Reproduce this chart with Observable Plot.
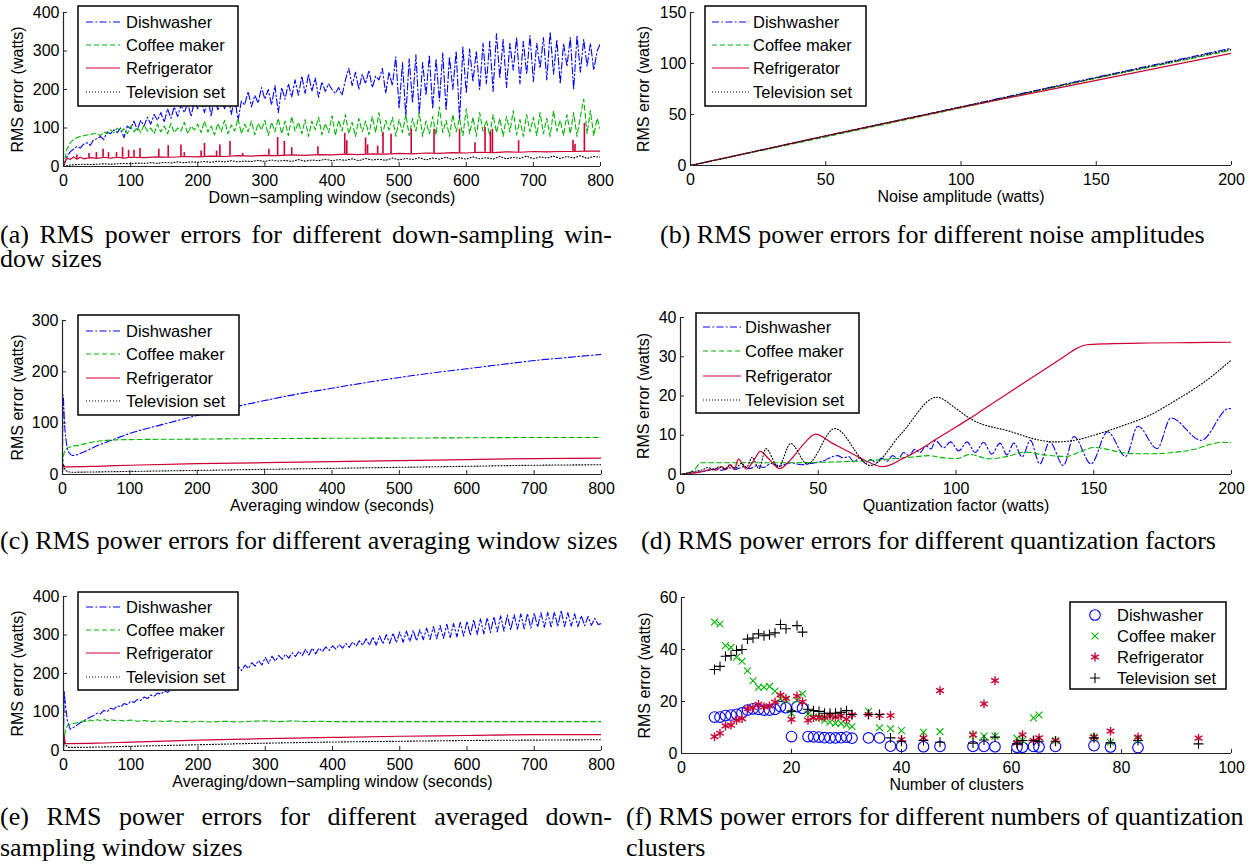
<!DOCTYPE html>
<html><head><meta charset="utf-8">
<script src="https://cdn.jsdelivr.net/npm/d3@7"></script>
<script src="https://cdn.jsdelivr.net/npm/@observablehq/plot@0.6"></script>
<style>
body{margin:0;background:#fff;}
#fig{position:relative;width:1256px;height:864px;overflow:hidden;background:#fff;}
.panel{position:absolute;}
.cap{position:absolute;font-family:"Liberation Serif","Times New Roman",serif;font-size:26px;line-height:22px;color:#000;white-space:nowrap;}
.just{white-space:normal;text-align:justify;text-align-last:justify;}
</style></head>
<body><div id="fig"></div>
<script>
// ---------------- DATA ----------------
const seriesNames = ["Dishwasher", "Coffee maker", "Refrigerator", "Television set"];

// (a) down-sampling window (x grid every 5 s for dishwasher/coffee, 10 s for TV)
const aDishY = [0,25,38,45,52,48,58,62,55,70,72,
78,70,90,85,95,88,100,75,105,98,
118,95,120,105,128,110,135,120,140,115,
150,125,155,130,160,140,165,130,170,150,
175,140,180,130,185,145,175,150,190,135,
180,120,170,160,195,155,185,165,205,175,
200,160,210,140,205,175,215,180,225,185,
235,190,240,195,230,180,220,195,215,200,
190,205,185,225,255,210,245,200,240,215,
250,205,235,225,255,190,245,210,285,150,
270,130,280,165,290,135,270,185,290,150,
280,170,295,145,285,200,300,120,310,190,
305,220,300,200,320,215,325,195,345,230,
330,205,320,250,335,215,325,240,340,220,
320,255,335,225,350,240,330,215,320,260,
335,200,340,245,330,260,320,250,300,320];
const aCoffeeY = [0,45,62,70,75,78,80,82,83,85,86,
80,90,85,95,88,100,90,98,85,105,
90,102,88,108,92,100,85,110,90,105,
85,112,88,100,92,115,85,105,95,110,
88,118,90,105,82,112,90,120,85,108,
92,125,85,110,90,118,82,112,95,120,
80,115,90,125,85,118,80,130,92,115,
85,122,78,118,95,128,82,112,88,132,
80,120,92,135,85,115,78,125,90,118,
82,130,88,140,80,120,95,128,78,122,
88,135,80,125,92,140,78,118,85,130,
82,155,88,120,78,135,90,125,80,150,
85,128,78,140,92,120,80,135,88,125,
78,130,90,145,82,122,78,135,90,128,
80,140,85,125,78,145,92,120,80,135,
85,140,78,130,175,85,145,80,125,95];
const aTVY = [0,4,5,6,5,6,7,6,7,8,
7,9,8,10,8,11,9,12,10,12,
11,13,11,14,12,15,12,14,13,16,
13,17,14,16,13,18,14,17,15,19,
15,18,16,20,15,21,17,19,16,22,
17,21,18,23,17,22,19,24,18,23,
19,25,20,23,19,26,20,24,21,27,
20,25,22,27,21,26,22,28,21,26,
24];
const aFridgeBase = [[0,0],[3,15],[6,22],[10,18],[15,25],[20,19],[25,24],[30,20],[40,23],[50,21],[60,24],[70,22],[80,24],[90,22],[100,24],[120,23],[140,25],[160,24],[180,26],[200,25],[220,27],[240,26],[260,28],[280,27],[300,29],[320,28],[340,30],[360,29],[380,31],[400,30],[420,32],[440,31],[460,33],[480,32],[500,34],[520,33],[540,35],[560,34],[580,36],[600,35],[620,37],[640,36],[660,38],[680,37],[700,39],[720,38],[740,39],[760,39],[780,40],[800,40]];
// spikes: [x, base, peak]
const aFridgeSpikes = [[20,20,30],[38,22,34],[49,21,36],[59,24,45],[67,22,36],[79,24,36],[88,22,49],[97,23,42],[105,24,42],[114,23,47],[142,25,45],[156,24,54],[175,25,56],[180,26,36],[205,25,40],[210,25,60],[228,26,40],[233,26,56],[248,27,65],[267,28,34],[306,29,45],[319,28,75],[329,28,65],[340,30,49],[379,31,51],[419,32,86],[422,32,67],[450,32,74],[453,32,56],[468,33,53],[476,33,87],[488,32,84],[518,33,97],[552,34,97],[590,35,97],[613,36,62],[628,37,101],[636,36,88],[639,36,97],[678,37,67],[759,39,68],[762,39,58],[776,39,112]];

// (b) noise amplitude
const bX = [0, 50, 100, 150, 200];
const bDish = [0, 29, 57.5, 86.5, 115];
const bCoffee = [0, 28, 56.5, 85.5, 113];
const bFridge = [0, 29, 57, 83.5, 110];
const bTV = [0, 29, 57.5, 86, 114];

// (c) averaging window
const cDish = [[0,30],[1,155],[2,130],[3,100],[5,70],[7,52],[10,42],[15,37],[20,38],[30,43],[40,49],[50,55],[75,68],[100,80],[150,98],[200,115],[250,130],[300,144],[350,157],[400,168],[450,179],[500,189],[550,198],[600,206],[650,214],[700,222],[750,228],[800,234]];
const cCoffee = [[0,20],[1,30],[3,45],[6,50],[10,53],[15,55],[25,57],[40,62],[60,66],[80,67.5],[100,68],[200,69],[300,70],[400,70.5],[500,71],[600,71.5],[700,72],[800,72]];
const cFridge = [[0,5],[1,20],[3,15],[10,15],[50,16],[100,18],[200,21],[300,23],[400,25],[500,27],[600,29],[700,31],[800,32]];
const cTV = [[0,5],[1,20],[3,12],[6,7],[10,5],[15,4.5],[50,5],[100,6],[200,8],[300,10],[400,12],[500,14],[600,16],[700,18],[800,19]];

// (d) quantization factor
const dDish = [[0,0],[5,0.5],[10,1],[13,1.5],[15,1.1],[18,1.7],[20,1.3],[23,2],[25,1.5],[28,2.3],[30,1.8],[33,2.8],[36,2.2],[40,3],[44,2.5],[48,2.9],[52,3.5],[55,4.5],[57,4.8],[59,4.2],[61,4.6],[63,3.2],[65,4.3],[67,2.8],[69,3.8],[71,3],[73,4.2],[75,3.4],[77,4.8],[79,4],[81,5.6],[83,4.8],[85,6.4],[87,5.6],[89,7.3],[91,6.5],[92.5,8.7],[95.5,6.8],[98,8.3],[101,6],[104,8.3],[107,5.6],[110,8.2],[113,5.2],[116,8],[118.5,5],[121,8],[124,4.5],[127,8.7],[130.4,2.7],[134,8.3],[139,2.3],[142.8,9.7],[149,2.7],[155,10.9],[161.6,4.6],[166,12.3],[173,6.6],[178,14.4],[189,8.7],[199,16.8],[200,16.7]];
const dCoffee = [[0,0],[3,0.5],[5,1.2],[7,2.8],[8,3],[20,3],[30,3],[40,3],[50,3.1],[60,3.3],[70,3.6],[75,3.9],[80,4.2],[85,4.5],[90,4.8],[95,4.3],[100,4],[105,5.1],[112,4],[118,4.5],[125,5.7],[132,5],[140,4.6],[145,5.8],[150,6.9],[155,6.4],[160,5.6],[165,5.3],[172,5.3],[180,5.7],[187,6.5],[193,7.8],[197,8.2],[200,8.1]];
const dFridge = [[0,0],[5,0.4],[9,0.9],[11,1.4],[13,1.1],[15,2],[16.5,1.2],[18,2.6],[19.5,1.3],[21,3.9],[24,1.4],[26.5,3.5],[29,5.9],[32,4],[36,1.5],[40,3.8],[45,8],[49,10.3],[55,8],[60,6.2],[65,4.3],[70,2.6],[73,2],[76,2.4],[80,3.8],[85,5.6],[90,7.7],[93,9.1],[100,12.1],[105,14.3],[110,16.6],[120,21.2],[130,25.8],[140,30.4],[144,32.2],[147,33],[155,33.3],[170,33.5],[185,33.6],[200,33.7]];
const dTV = [[0,0],[5,0.8],[8,1.2],[10,1.8],[12,1.2],[14,2],[16,1.5],[18,2.3],[20,1.6],[22,2.8],[24,1.9],[26,4.4],[28.5,1.5],[31,6.6],[35.5,1.9],[40,7.9],[46,2.7],[56,11.7],[69,2.3],[80,10.3],[93,19.7],[100,16.8],[105,14.3],[120,10.9],[130,8.8],[136,8.3],[145,9],[150,10],[160,12.3],[170,15],[180,19],[190,23.5],[200,29.2]];

// (e) averaged down-sampling window
const eDishHead = [[0,30],[1,155],[3,115],[6,75],[10,55],[15,60],[20,66],[25,72],[30,77],[35,82],[40,87],[45,91]];
const eDishY = [97,95,104,101,110,107,116,113,122,119,
128,125,133,130,139,135,144,141,149,146,
155,151,160,156,165,161,170,167,175,172,
180,176,187,182,192,187,198,192,204,197,
210,202,217,208,222,213,228,219,234,222,
242,226,245,232,247,237,250,240,254,244,
258,246,263,248,266,251,266,257,269,260,
272,263,275,266,278,268,282,271,285,273,
290,273,295,274,298,277,301,278,305,280,
308,281,310,283,312,285,314,288,318,288,
322,290,325,291,328,293,330,295,333,297,
336,299,340,301,342,303,345,306,348,308,
350,310,352,313,353,315,355,316,356,318,
357,320,358,320,359,321,360,322,364,322,
358,323,355,322,350,324,348,325,343,327,
330];
const eCoffee = [[0,20],[1,30],[3,55],[6,65],[10,68],[15,70],[20,72],[25,74],[30,77],[35,75],[40,79],[45,77],[50,80],[55,78],[60,81],[65,77],[70,80],[75,78],[80,79],[90,77],[100,79],[110,76],[120,78],[130,75],[140,77],[150,75],[160,77],[170,74],[180,76],[190,74],[200,76],[220,74],[240,76],[260,74],[280,76],[300,77],[320,75],[340,77],[360,75],[380,76],[400,75],[450,75],[500,75],[550,75],[600,75],[650,75],[700,75],[750,75],[800,75]];
const eFridge = [[0,0],[1,40],[2,25],[4,18],[10,18],[50,19],[100,22],[200,27],[300,31],[400,34],[500,37],[600,39],[700,41],[800,41]];
const eTV = [[0,5],[1,20],[3,15],[6,10],[10,8],[50,9],[100,11],[200,15],[300,19],[400,22],[500,24],[600,26],[700,27],[800,28]];

// (f) number of clusters
const fX = [6,7,8,9,10,11,12,13,14,15,16,17,18,19,20,21,22,23,24,25,26,27,28,29,30,31,34,36,38,40,44,47,53,55,57,61,62,64,65,68,75,78,83,94];
const fDish = [14,14,14.6,14.8,15.1,15.6,16.7,17.2,17,16.7,16.7,17,18,17.6,6.5,18,17.4,6.5,6.4,6.3,6.1,6,6,6.1,6.3,5.9,6,6,2.8,2.7,2.6,2.7,2.7,2.7,2.6,2.4,2.4,2.7,2.5,2.7,3,2.5,2.3,null];
const fCoffee = [50.6,49.8,41.5,40.8,37,35.5,31.8,28,25.5,25.5,25.8,24,21,20.5,15.5,20.5,23,15.2,14,13.8,12.8,12,11.6,11.6,11,10.4,16.2,9.9,9.5,8.8,8.2,8.4,7.2,6.7,6.7,5.9,5,13.7,14.8,5,6.3,4.3,5.4,null];
const fFridge = [6.5,7.8,10.6,10.9,12.8,13.4,17.2,17.6,18.9,17.9,18.3,19.8,22.5,21.2,13.1,22.1,19.9,12.8,13.8,13.8,14,14.5,14,14.5,13.2,14.9,15,14.6,14.6,5.4,6,24.2,7.2,19.1,28,4.1,7.2,5,6,5,6.3,8.6,6.3,5.9];
const fTV = [32.3,33.5,37.4,37.7,39.6,40,44,44.4,46,45.3,45.7,46.4,49.6,48,16.3,49.2,46.7,17,16.5,16.2,15.5,15.5,15.5,15.8,16.5,15,15,15,6,4.7,5,4.3,4,5.2,6.3,3.7,5,5,4.7,4.7,6,4.1,5,3.7];

// ticks
const ticks800 = [0,100,200,300,400,500,600,700,800];
const ticks200 = [0,50,100,150,200];
const ticks100 = [0,20,40,60,80,100];

// ---------------- STYLE ----------------
const FONT = "'Liberation Sans', Arial, Helvetica, sans-serif";
const COL = {dish: "#0000ff", coffee: "#00b400", fridge: "#cc0033", tv: "#000000"};
const DASH = {dish: "7,2.5,1.5,2.5", coffee: "5,3", fridge: null, tv: "1,2"};
const AX = "#262626";
const fig = document.getElementById("fig");
const pairs = (xs, ys) => xs.map((x, i) => [x, ys[i]]);
const X5 = d3.range(0, 805, 5), X10 = d3.range(0, 810, 10), X5e = d3.range(50, 805, 5);

function lineMark(data, key, extra = {}) {
  return Plot.line(data, {x: d => d[0], y: d => d[1], stroke: COL[key], strokeWidth: key === "fridge" ? 1.2 : 1.1,
    strokeDasharray: DASH[key] || undefined, clip: true, ...extra});
}

function makePanel(p) {
  const plotW = p.width - p.mL - p.mR, plotH = p.height - p.mT - p.mB;
  const svg = Plot.plot({
    width: p.width, height: p.height,
    marginLeft: p.mL, marginRight: p.mR, marginTop: p.mT, marginBottom: p.mB,
    style: {fontFamily: FONT, fontSize: "16px", color: "#000", background: "#fff"},
    x: {domain: p.xDomain}, y: {domain: p.yDomain},
    marks: [
      ...p.marks,
      Plot.ruleX(p.xTicks, {x: d => d, insetTop: plotH - 4, stroke: AX}),
      Plot.ruleY(p.yTicks, {y: d => d, insetRight: plotW - 4, stroke: AX}),
      Plot.ruleX([p.xDomain[0]], {stroke: AX, strokeWidth: 1.2}),
      Plot.ruleY([p.yDomain[0]], {stroke: AX, strokeWidth: 1.2}),
      Plot.axisX(p.xTicks, {anchor: "bottom", tickSize: 0, tickPadding: 8, label: null, fontSize: 16}),
      Plot.axisY(p.yTicks, {anchor: "left", tickSize: 0, tickPadding: 4, label: null, fontSize: 16}),
      Plot.text([p.xLabel], {frameAnchor: "bottom", dy: 31, lineAnchor: "middle", textAnchor: "middle", fontSize: 16, text: d => d}),
      Plot.text([p.yLabel], {frameAnchor: "left", dx: -p.yLabelDx, rotate: -90, lineAnchor: "middle", textAnchor: "middle", fontSize: 16, text: d => d})
    ]
  });
  const div = document.createElement("div");
  div.className = "panel";
  div.style.left = p.left + "px"; div.style.top = p.top + "px";
  div.appendChild(svg);
  fig.appendChild(div);
}

const yLab = "RMS error (watts)";

// (a)
makePanel({left: 0, top: 0, width: 615, height: 215, mL: 63, mR: 15, mT: 12, mB: 49,
  xDomain: [0, 800], yDomain: [0, 400], xTicks: ticks800, yTicks: [0,100,200,300,400],
  xLabel: "Down\u2212sampling window (seconds)", yLabel: yLab, yLabelDx: 46,
  marks: [
    lineMark(pairs(X5, aDishY), "dish"),
    lineMark(pairs(X5, aCoffeeY), "coffee"),
    lineMark(aFridgeBase, "fridge"),
    Plot.ruleX(aFridgeSpikes, {x: d => d[0], y1: d => d[1], y2: d => d[2], stroke: COL.fridge, strokeWidth: 1.6}),
    lineMark(pairs(X10, aTVY), "tv")
  ]});

// (b)
makePanel({left: 630, top: 0, width: 626, height: 215, mL: 60, mR: 25, mT: 12, mB: 50,
  xDomain: [0, 200], yDomain: [0, 150], xTicks: ticks200, yTicks: [0,50,100,150],
  xLabel: "Noise amplitude (watts)", yLabel: yLab, yLabelDx: 47,
  marks: [
    lineMark(pairs(bX, bDish), "dish"),
    lineMark(pairs(bX, bCoffee), "coffee"),
    lineMark(pairs(bX, bFridge), "fridge"),
    lineMark(pairs(bX, bTV), "tv")
  ]});

// (c)
makePanel({left: 0, top: 300, width: 615, height: 215, mL: 62, mR: 14, mT: 20, mB: 41,
  xDomain: [0, 800], yDomain: [0, 300], xTicks: ticks800, yTicks: [0,100,200,300],
  xLabel: "Averaging window (seconds)", yLabel: yLab, yLabelDx: 45,
  marks: [
    lineMark(cDish, "dish", {curve: "monotone-x"}),
    lineMark(cCoffee, "coffee", {curve: "monotone-x"}),
    lineMark(cFridge, "fridge", {curve: "monotone-x"}),
    lineMark(cTV, "tv", {curve: "monotone-x"})
  ]});

// (d)
makePanel({left: 630, top: 300, width: 626, height: 215, mL: 50, mR: 25, mT: 17, mB: 41,
  xDomain: [0, 200], yDomain: [0, 40], xTicks: ticks200, yTicks: [0,10,20,30,40],
  xLabel: "Quantization factor (watts)", yLabel: yLab, yLabelDx: 37,
  marks: [
    lineMark(dDish, "dish", {curve: "monotone-x"}),
    lineMark(dCoffee, "coffee", {curve: "monotone-x"}),
    lineMark(dFridge, "fridge", {curve: "monotone-x"}),
    lineMark(dTV, "tv", {curve: "monotone-x"})
  ]});

// (e)
makePanel({left: 0, top: 580, width: 615, height: 215, mL: 63, mR: 14, mT: 16, mB: 45,
  xDomain: [0, 800], yDomain: [0, 400], xTicks: ticks800, yTicks: [0,100,200,300,400],
  xLabel: "Averaging/down\u2212sampling window (seconds)", yLabel: yLab, yLabelDx: 46,
  marks: [
    lineMark(eDishHead.concat(pairs(X5e, eDishY)), "dish"),
    lineMark(eCoffee, "coffee"),
    lineMark(eFridge, "fridge", {curve: "monotone-x"}),
    lineMark(eTV, "tv", {curve: "monotone-x"})
  ]});

// (f)
const fData = (ys) => pairs(fX, ys).filter(d => d[1] != null);
makePanel({left: 630, top: 580, width: 626, height: 215, mL: 51, mR: 25, mT: 17, mB: 42,
  xDomain: [0, 100], yDomain: [0, 60], xTicks: ticks100, yTicks: [0,20,40,60],
  xLabel: "Number of clusters", yLabel: yLab, yLabelDx: 37,
  marks: [
    Plot.dot(fData(fDish), {x: d => d[0], y: d => d[1], symbol: "circle", r: 5.3, stroke: COL.dish, fill: "none", strokeWidth: 1.1}),
    Plot.dot(fData(fCoffee), {x: d => d[0], y: d => d[1], symbol: "times", r: 3.2, stroke: COL.coffee, fill: "none", strokeWidth: 1.1}),
    Plot.dot(fData(fFridge), {x: d => d[0], y: d => d[1], symbol: "asterisk", r: 4.2, stroke: COL.fridge, fill: "none", strokeWidth: 1.4}),
    Plot.dot(fData(fTV), {x: d => d[0], y: d => d[1], symbol: "plus", r: 3.3, stroke: COL.tv, fill: "none", strokeWidth: 1.1})
  ]});

// ---------------- LEGENDS (overlay) ----------------
const ov = d3.select(fig).append("svg").attr("width", 1256).attr("height", 864)
  .style("position", "absolute").style("left", "0px").style("top", "0px");
const keys = ["dish", "coffee", "fridge", "tv"];
function lineLegend(box, rowsY, sx1, sx2, tx) {
  ov.append("rect").attr("x", box[0]).attr("y", box[1]).attr("width", box[2] - box[0]).attr("height", box[3] - box[1])
    .attr("fill", "#fff").attr("stroke", "#000").attr("stroke-width", 1.5);
  keys.forEach((k, i) => {
    const ln = ov.append("line").attr("x1", sx1).attr("x2", sx2).attr("y1", rowsY[i]).attr("y2", rowsY[i])
      .attr("stroke", COL[k]).attr("stroke-width", k === "fridge" ? 1.2 : 1.1);
    if (DASH[k]) ln.attr("stroke-dasharray", DASH[k]);
    ov.append("text").attr("x", tx).attr("y", rowsY[i]).attr("dy", "0.36em")
      .style("font-family", FONT).style("font-size", "16.5px").attr("fill", "#000").text(seriesNames[i]);
  });
}
lineLegend([78, 6, 238, 106], [22, 45, 68, 92], 86, 120, 126);
lineLegend([705, 6, 866, 106], [22, 45, 68, 92], 712, 749, 753);
lineLegend([78, 315, 239, 415], [331, 354, 378, 401], 86, 120, 126);
lineLegend([696, 313, 859, 413], [327, 351, 376, 400], 703, 741, 745);
lineLegend([78, 592, 238, 690], [607, 630, 653, 677], 86, 120, 126);

// (f) symbol legend
(function () {
  const box = [1070, 602, 1226, 689], rowsY = [615, 636, 657, 678];
  ov.append("rect").attr("x", box[0]).attr("y", box[1]).attr("width", box[2] - box[0]).attr("height", box[3] - box[1])
    .attr("fill", "#fff").attr("stroke", "#000").attr("stroke-width", 1.5);
  const syms = [[d3.symbolCircle, 5.3, 1.1], [d3.symbolTimes, 3.2, 1.1], [d3.symbolAsterisk, 4.2, 1.4], [d3.symbolPlus, 3.3, 1.1]];
  keys.forEach((k, i) => {
    const [type, r, sw] = syms[i];
    ov.append("path").attr("d", d3.symbol(type, Math.PI * r * r)()).attr("transform", `translate(1095,${rowsY[i]})`)
      .attr("fill", "none").attr("stroke", COL[k]).attr("stroke-width", sw);
    ov.append("text").attr("x", 1117).attr("y", rowsY[i]).attr("dy", "0.36em")
      .style("font-family", FONT).style("font-size", "16.5px").attr("fill", "#000").text(seriesNames[i]);
  });
})();

// ---------------- CAPTIONS ----------------
const captions = [
  {left: 0, top: 224, width: 612, text: "(a) RMS power errors for different down-sampling win-", justify: true},
  {left: 0, top: 248, text: "dow sizes"},
  {left: 660, top: 224, text: "(b) RMS power errors for different noise amplitudes"},
  {left: 0, top: 530, text: "(c) RMS power errors for different averaging window sizes"},
  {left: 641, top: 530, text: "(d) RMS power errors for different quantization factors"},
  {left: 0, top: 806, width: 612, text: "(e) RMS power errors for different averaged down-", justify: true},
  {left: 0, top: 837, text: "sampling window sizes"},
  {left: 626, top: 806, text: "(f) RMS power errors for different numbers of quantization"},
  {left: 626, top: 837, text: "clusters"}
];
captions.forEach(c => {
  const d = document.createElement("div");
  d.className = "cap" + (c.justify ? " just" : "");
  d.style.left = c.left + "px"; d.style.top = c.top + "px";
  if (c.width) d.style.width = c.width + "px";
  d.textContent = c.text;
  fig.appendChild(d);
});
</script>
</body></html>
